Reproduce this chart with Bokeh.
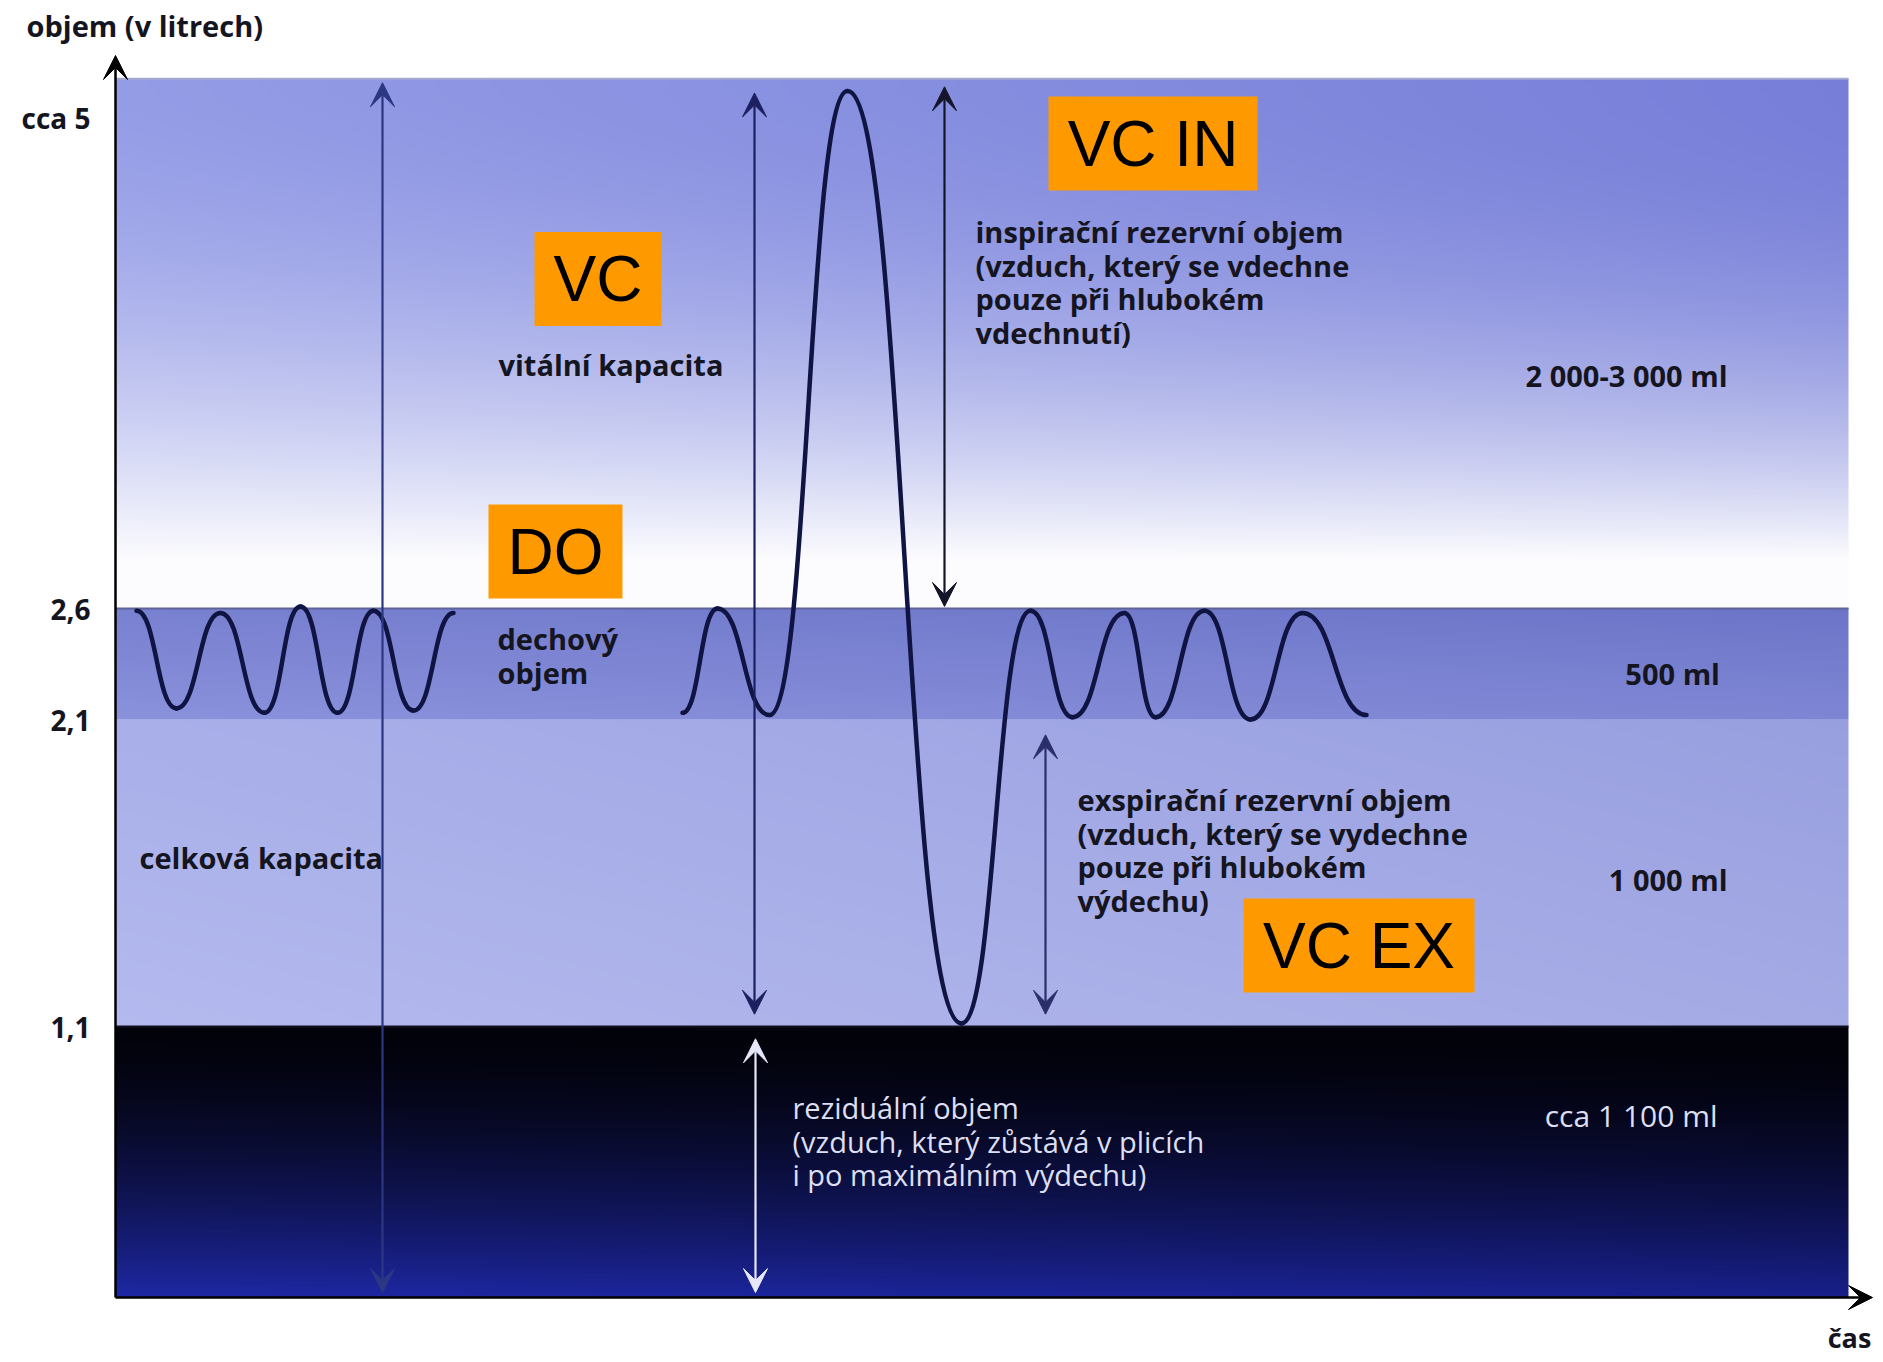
import numpy as np
from bokeh.plotting import figure
from bokeh.models import Range1d, FixedTicker, Arrow, VeeHead
from bokeh.core.properties import value
from bokeh.embed import file_html
from bokeh.resources import INLINE

# ---------------- data ----------------
# volume levels marked on the y axis (litres) and their tick labels
levels = [0.0, 1.1, 2.1, 2.6, 5.0]
level_labels = ["", "1,1", "2,1", "2,6", "cca 5"]
top_volume = 5.19

# quiet breathing (first part): turning points, time (a.u.) and volume (l)
quiet_t = [21, 61, 105, 149, 185, 222, 258, 298, 338]
quiet_v = [2.59, 2.15, 2.58, 2.13, 2.61, 2.13, 2.59, 2.14, 2.58]

# breathing with one maximal inspiration and maximal expiration
deep_t = [567, 602, 654, 732, 846, 915, 957, 1009, 1040, 1089, 1135, 1187, 1251]
deep_v = [2.13, 2.60, 2.12, 5.13, 1.11, 2.59, 2.11, 2.58, 2.11, 2.59, 2.10, 2.58, 2.12]

# volume spans shown by double arrows
span_name = ["celková kapacita", "vitální kapacita", "inspirační rezervní objem",
             "exspirační rezervní objem", "reziduální objem"]
span_t = [267, 639, 829, 930, 640]
span_lo = [0.02, 1.14, 2.61, 1.14, 0.02]
span_hi = [5.17, 5.12, 5.15, 2.05, 1.05]

# texts
vital_text = ["vitální kapacita"]
insp_text = ["inspirační rezervní objem", "(vzduch, který se vdechne",
             "pouze při hlubokém", "vdechnutí)"]
tidal_text = ["dechový", "objem"]
total_text = ["celková kapacita"]
exp_text = ["exspirační rezervní objem", "(vzduch, který se vydechne",
            "pouze při hlubokém", "výdechu)"]
resid_text = ["reziduální objem", "(vzduch, který zůstává v plicích",
              "i po maximálním výdechu)"]
band_values = ["2 000-3 000 ml", "500  ml", "1 000 ml", "cca 1 100 ml"]
badges = ["VC IN", "VC", "DO", "VC EX"]

# ---------------- layout / style ----------------
LEVEL_POS = [0, 271, 578, 689, 1180]    # schematic height of each level
AREA_W = 1733
FONT = "Open Sans"
DARK = "#15151f"
LIGHT = "#dcdff2"
CURVE = "#0f1442"


def ypos(v):
    v = np.asarray(v, dtype=float)
    out = np.interp(v, levels, LEVEL_POS)
    slope = (LEVEL_POS[-1] - LEVEL_POS[-2]) / (levels[-1] - levels[-2])
    return np.where(v > levels[-1], LEVEL_POS[-1] + (v - levels[-1]) * slope, out)


area_top = float(ypos(top_volume))

p = figure(width=1880, height=1358, output_backend="svg", toolbar_location=None,
           x_range=Range1d(-14, 1765), y_range=Range1d(-61, 1253),
           x_axis_location=None, y_axis_location="left",
           min_border_left=101, min_border_right=0, min_border_top=44,
           min_border_bottom=0)
p.outline_line_color = None
p.grid.visible = False
p.background_fill_color = "white"
p.border_fill_color = "white"

p.title.text = "objem (v litrech)"
p.title.align = "left"
p.title.offset = -75
p.title.standoff = 0
p.title.text_font = FONT
p.title.text_font_style = "bold"
p.title.text_font_size = "29px"
p.title.text_color = DARK

tick_pos = [float(ypos(l)) for l in levels[1:]]
p.yaxis.ticker = FixedTicker(ticks=tick_pos)
p.yaxis.major_label_overrides = {tp: lab for tp, lab in zip(tick_pos, level_labels[1:])}
p.yaxis.axis_line_color = None
p.yaxis.major_tick_line_color = None
p.yaxis.minor_tick_line_color = None
p.yaxis.major_tick_out = 0
p.yaxis.major_tick_in = 0
p.yaxis.major_label_standoff = 11
p.yaxis.major_label_text_font = FONT
p.yaxis.major_label_text_font_style = "bold"
p.yaxis.major_label_text_font_size = "28px"
p.yaxis.major_label_text_color = DARK

# ---------------- background bands (gradient image) ----------------
NX = 217
NY = int(round(area_top))
U, X = np.meshgrid(np.arange(NY) + 0.5, (np.arange(NX) + 0.5) / NX, indexing="ij")
U3 = U[..., None]
X3 = X[..., None]
b1, b2, b3 = LEVEL_POS[1], LEVEL_POS[2], LEVEL_POS[3]
rgb = np.zeros((NY, NX, 3))

# residual volume: black -> navy
t = np.clip((b1 - U3) / b1, 0, 1)
c0 = np.array([2, 2, 10]); c1 = np.array([30, 40, 165])
col = c0 + t ** 1.6 * (c1 - c0) - X3 * t * np.array([6, 8, 25])
m = U < b1
rgb[m] = col[m]

# expiratory reserve
s = (U3 - b1) / (b2 - b1)
c0 = np.array([180, 186, 238]); c1 = np.array([168, 175, 233])
col = c0 + s * (c1 - c0) - X3 * np.array([16, 16, 10])
m = (U >= b1) & (U < b2)
rgb[m] = col[m]

# tidal volume
s = (U3 - b2) / (b3 - b2)
c0 = np.array([138, 146, 220]); c1 = np.array([120, 128, 208])
col = c0 + s * (c1 - c0) - X3 * np.array([12, 12, 8])
m = (U >= b2) & (U < b3)
rgb[m] = col[m]

# inspiratory reserve: blue -> white
t = np.clip((area_top - U3) / (area_top - 737.0), 0, 1)
f = t ** (1.8 + 0.5 * X3)
left = np.array([148, 156, 230]); right = np.array([118, 126, 216])
topc = left + X3 * (right - left)
col = topc + f * (np.array([252, 252, 254]) - topc)
m = U >= b3
rgb[m] = col[m]

rgba = np.empty((NY, NX, 4), dtype=np.uint8)
rgba[..., :3] = np.clip(np.round(rgb), 0, 255).astype(np.uint8)
rgba[..., 3] = 255
img = np.ascontiguousarray(rgba).view(np.uint32).reshape(NY, NX)
p.image_rgba(image=[img], x=0, y=0, dw=AREA_W, dh=area_top)

# band edges
p.segment(x0=[0, 0, 0], y0=[area_top, b3, b1], x1=[AREA_W] * 3, y1=[area_top, b3, b1],
          line_color=["#a4a9d0", "#5d6298", "#101020"], line_width=2)

# ---------------- spirogram ----------------
K = 0.5


def breath(ts, vs):
    tt = np.asarray(ts, dtype=float)
    yy = ypos(vs)
    x0, x1, y0, y1 = tt[:-1], tt[1:], yy[:-1], yy[1:]
    dx = x1 - x0
    p.bezier(x0=x0, y0=y0, x1=x1, y1=y1, cx0=x0 + K * dx, cy0=y0,
             cx1=x1 - K * dx, cy1=y1, line_color=CURVE, line_width=4.5,
             line_cap="round")


breath(quiet_t, quiet_v)
breath(deep_t, deep_v)

# ---------------- arrows ----------------
span_colors = ["#2c3784", "#1c2060", "#15152a", "#2a2f6a", "#e6e8fa"]
for tt, lo, hi, c in zip(span_t, span_lo, span_hi, span_colors):
    p.add_layout(Arrow(x_start=tt, y_start=float(ypos(lo)), x_end=tt, y_end=float(ypos(hi)),
                       line_color=c, line_width=2.2,
                       start=VeeHead(size=24, fill_color=c, line_color=c, line_width=1),
                       end=VeeHead(size=24, fill_color=c, line_color=c, line_width=1)))

# axes drawn as arrows
p.add_layout(Arrow(x_start=0, y_start=0, x_end=0, y_end=1242, line_color="black",
                   line_width=2.5, end=VeeHead(size=24, fill_color="black", line_color="black")))
p.add_layout(Arrow(x_start=0, y_start=0, x_end=1757, y_end=0, line_color="black",
                   line_width=2.5, end=VeeHead(size=24, fill_color="black", line_color="black")))

# ---------------- texts ----------------
LS = 33.5


def block(lines, x, y_first, color=DARK, style="bold", size="29px", align="left"):
    ys = [y_first - i * LS for i in range(len(lines))]
    p.text(x=[x] * len(lines), y=ys, text=lines, text_font=value(FONT),
           text_font_style=style, text_font_size=size, text_color=color,
           text_align=align, text_baseline="middle")


block(vital_text, 383, 933)
block(insp_text, 860, 1066)
block(tidal_text, 382, 659)
block(total_text, 24, 440)
block(exp_text, 962, 498)
block(resid_text, 677, 190, color=LIGHT, style="normal", size="29px")
block(band_values[0:1], 1612, 922, align="right")
block(band_values[1:2], 1612, 624, align="right")
block(band_values[2:3], 1612, 418, align="right")
block(band_values[3:4], 1602, 182, color=LIGHT, style="normal", size="30px", align="right")
block(["čas"], 1734, -40, size="27px", align="center")

# orange badges
bx = [1037.5, 482.5, 440, 1243.5]
by = [1154, 1018.5, 746, 352]
bw = [209, 127, 134, 231]
p.rect(x=bx, y=by, width=bw, height=94, width_units="screen", height_units="screen",
       fill_color="#ff9900", line_color=None)
p.text(x=bx, y=by, text=badges, text_font=value("Liberation Sans"), text_font_size="64px",
       text_color="black", text_align="center", text_baseline="middle")

open("out.html", "w").write(file_html(p, INLINE, title="Plicní objemy"))
